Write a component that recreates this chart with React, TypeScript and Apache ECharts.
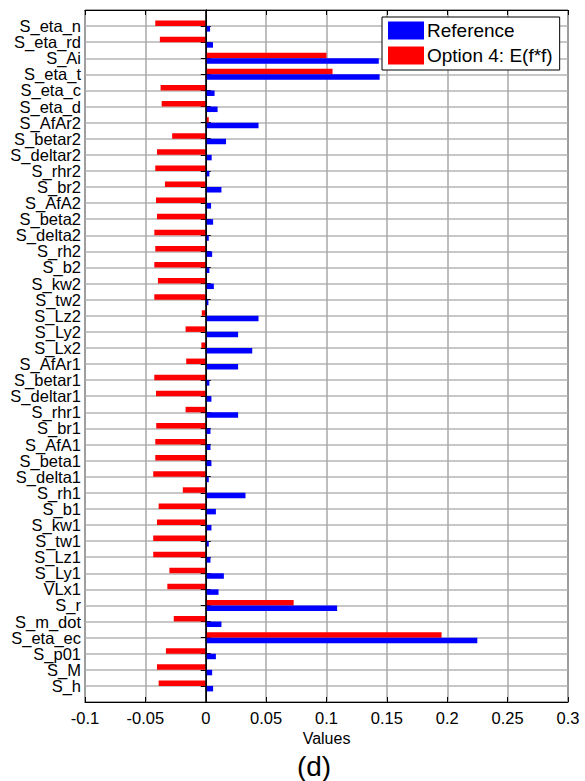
import React, { useEffect, useRef } from "react";
import * as echarts from "echarts";

const categories = [
  "S_eta_n", "S_eta_rd", "S_Ai", "S_eta_t", "S_eta_c", "S_eta_d", "S_AfAr2", "S_betar2",
  "S_deltar2", "S_rhr2", "S_br2", "S_AfA2", "S_beta2", "S_delta2", "S_rh2", "S_b2",
  "S_kw2", "S_tw2", "S_Lz2", "S_Ly2", "S_Lx2", "S_AfAr1", "S_betar1", "S_deltar1",
  "S_rhr1", "S_br1", "S_AfA1", "S_beta1", "S_delta1", "S_rh1", "S_b1", "S_kw1",
  "S_tw1", "S_Lz1", "S_Ly1", "VLx1", "S_r", "S_m_dot", "S_eta_ec", "S_p01", "S_M", "S_h",
];

const referenceValues = [
  0.0036, 0.006, 0.1433, 0.144, 0.0073, 0.0098, 0.0437, 0.0168,
  0.0049, 0.003, 0.013, 0.0044, 0.0061, 0.0025, 0.0053, 0.003,
  0.0067, 0.0022, 0.0437, 0.0268, 0.0385, 0.0268, 0.003, 0.0047,
  0.0268, 0.0039, 0.0039, 0.0047, 0.0025, 0.0329, 0.0084, 0.0047,
  0.0025, 0.0039, 0.015, 0.0106, 0.1088, 0.013, 0.2249, 0.0084, 0.0053, 0.0061,
];

const option4Values = [
  -0.0418, -0.038, 0.1, 0.105, -0.0374, -0.0365, 0.0025, -0.0278,
  -0.0404, -0.0418, -0.0338, -0.0412, -0.0404, -0.0426, -0.0418, -0.0426,
  -0.0396, -0.0426, -0.0033, -0.0167, -0.0036, -0.0162, -0.0426, -0.0412,
  -0.0167, -0.041, -0.0418, -0.0418, -0.0435, -0.019, -0.039, -0.0404,
  -0.0435, -0.0435, -0.0301, -0.0318, 0.0728, -0.0265, 0.1953, -0.033, -0.0404, -0.039,
];

const xTicks = [-0.1, -0.05, 0, 0.05, 0.1, 0.15, 0.2, 0.25, 0.3];

const seriesNames = ["Reference", "Option 4: E(f*f)"];

const FONT = "'Liberation Sans', Arial, sans-serif";

export default function App() {
  const ref = useRef<HTMLDivElement>(null);

  useEffect(() => {
    document.body.style.margin = "0";
    if (!ref.current) return;
    const chart = echarts.init(ref.current, null, { renderer: "svg" });
    const paddedCats = ["", ...categories, ""];
    const pad = (arr: number[]) => [null, ...arr, null];
    const yAxisBase = {
      type: "category" as const,
      data: paddedCats,
      inverse: true,
      boundaryGap: false,
      axisLine: { show: true, lineStyle: { color: "#000", width: 1 } },
      axisTick: { show: true, inside: true, length: 5, lineStyle: { color: "#000" } },
    };
    const xAxisBase = {
      type: "value" as const,
      min: -0.1,
      max: 0.3,
      interval: 0.05,
      axisLine: { show: true, onZero: false, lineStyle: { color: "#000", width: 1 } },
      axisTick: { show: true, inside: true, length: 5, lineStyle: { color: "#000" } },
    };
    chart.setOption({
      animation: false,
      backgroundColor: "#fff",
      grid: {
        left: 85,
        top: 10,
        right: 17,
        bottom: 79,
        show: true,
        borderColor: "#000",
        borderWidth: 1,
      },
      legend: {
        data: seriesNames,
        orient: "vertical",
        left: 382,
        top: 17,
        itemWidth: 36,
        itemHeight: 18,
        itemGap: 6,
        icon: "rect",
        padding: [4, 7, 5, 6],
        backgroundColor: "#fff",
        borderColor: "#000",
        borderWidth: 1,
        borderRadius: 0,
        textStyle: {
          fontFamily: FONT,
          fontSize: 19,
          lineHeight: 19,
          color: "#000",
          padding: [0, 0, 0, -2],
        },
      },
      xAxis: [
        {
          ...xAxisBase,
          position: "bottom",
          name: "Values",
          nameLocation: "middle",
          nameGap: 26,
          nameTextStyle: { fontFamily: FONT, fontSize: 16, color: "#000" },
          axisLabel: {
            fontFamily: FONT,
            fontSize: 16.5,
            color: "#000",
            margin: 7,
            formatter: (v: number) => {
              const t = xTicks.find((x) => Math.abs(x - v) < 1e-9);
              return t === undefined ? "" : String(t);
            },
          },
          splitLine: { show: true, lineStyle: { color: "#a8a8a8", width: 1.5 } },
        },
        {
          ...xAxisBase,
          position: "top",
          axisLabel: { show: false },
          splitLine: { show: false },
        },
      ],
      yAxis: [
        {
          ...yAxisBase,
          position: "left",
          axisLabel: {
            fontFamily: FONT,
            fontSize: 16.5,
            lineHeight: 15,
            color: "#000",
            margin: 4,
            interval: 0,
          },
          splitLine: { show: true, lineStyle: { color: "#b4b4b4", width: 1.5 } },
        },
        {
          ...yAxisBase,
          position: "right",
          axisLabel: { show: false },
          splitLine: { show: false },
        },
      ],
      series: [
        {
          name: seriesNames[1],
          type: "bar",
          data: pad(option4Values),
          barWidth: 5.5,
          barGap: "0%",
          itemStyle: { color: "#ff0000" },
          markLine: {
            silent: true,
            symbol: "none",
            label: { show: false },
            lineStyle: { color: "#000", type: "solid", width: 1.5 },
            data: [{ xAxis: 0 }],
          },
        },
        {
          name: seriesNames[0],
          type: "bar",
          data: pad(referenceValues),
          barWidth: 5.5,
          barGap: "0%",
          itemStyle: { color: "#0000ff" },
        },
      ],
      graphic: [
        {
          type: "text",
          x: 314,
          y: 766,
          style: {
            text: "(d)",
            fontFamily: FONT,
            fontSize: 28,
            fill: "#000",
            textAlign: "center",
            textVerticalAlign: "middle",
          },
        },
      ],
    });
    return () => chart.dispose();
  }, []);

  return <div ref={ref} style={{ width: 585, height: 781 }} />;
}
